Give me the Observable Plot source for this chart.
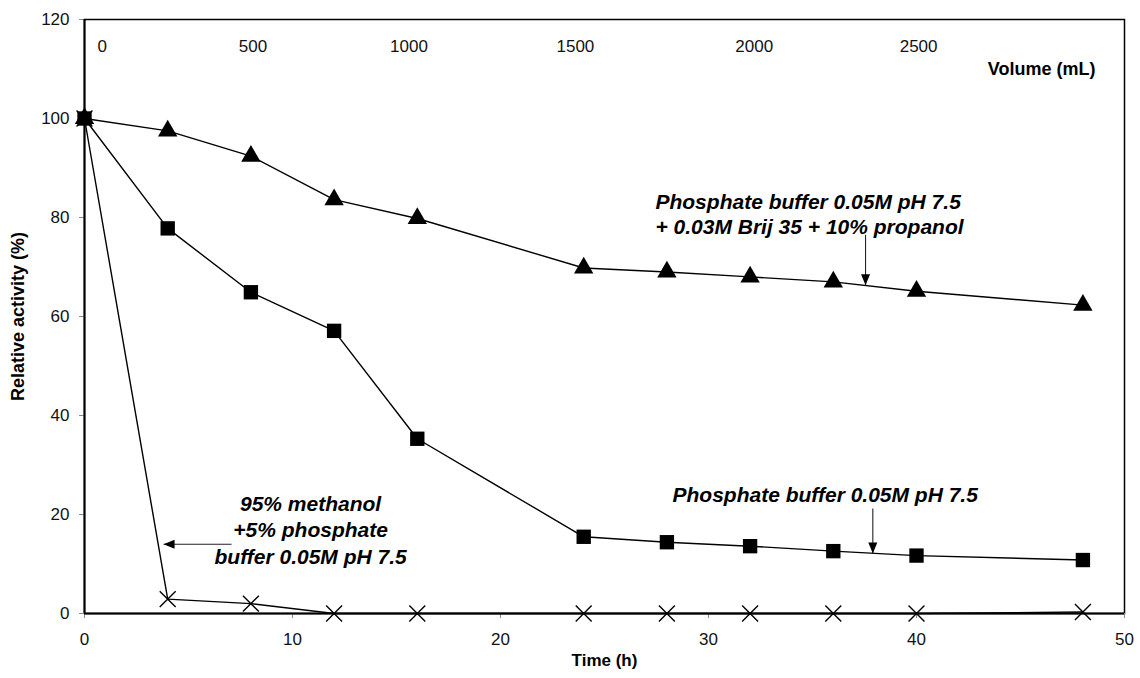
<!DOCTYPE html>
<html>
<head>
<meta charset="utf-8">
<script src="https://cdn.jsdelivr.net/npm/d3@7"></script>
<script src="https://cdn.jsdelivr.net/npm/@observablehq/plot@0.6"></script>
<style>
  html, body { margin: 0; padding: 0; background: #fff; }
  #chart svg { display: block; }
</style>
</head>
<body>
<div id="chart"></div>
<script>
// ---- data ----
const hours = [0, 4, 8, 12, 16, 24, 28, 32, 36, 40, 48];
const brijActivity = [100, 97.5, 92.4, 83.6, 79.8, 69.8, 69.0, 68.0, 67.0, 65.1, 62.3];
const bufferActivity = [100, 77.8, 64.9, 57.1, 35.3, 15.5, 14.4, 13.6, 12.6, 11.7, 10.8];
const methanolActivity = [100, 2.9, 2.0, 0, 0, 0, 0, 0, 0, 0, 0.3];

const xTicks = [0, 10, 20, 30, 40, 50];
const yTicks = [0, 20, 40, 60, 80, 100, 120];

// secondary (volume) labels, and the time (h) under which each is printed
const volumeLabels = ["0", "500", "1000", "1500", "2000", "2500"];
const volumeAtHour = [0.85, 8.1, 15.6, 23.6, 32.2, 40.1];

// annotations
const brijNote = "Phosphate buffer 0.05M pH 7.5\n+ 0.03M Brij 35 + 10% propanol";
const bufferNote = "Phosphate buffer 0.05M pH 7.5";
const methanolNote = "95% methanol\n+5% phosphate\nbuffer 0.05M pH 7.5";
const noteX = [27.45, 28.27, 10.87];
const noteY = [80.8, 23.8, 17.1];
// arrows: [x1, y1, x2 (tip), y2 (tip)]
const arrowX1 = [37.55, 37.9, 7.07];
const arrowY1 = [76.5, 21.2, 14];
const arrowX2 = [37.55, 37.9, 3.8];
const arrowY2 = [66.3, 12.1, 14];

// ---- tables built from the arrays ----
const series = [
  {name: "brij", values: brijActivity},
  {name: "buffer", values: bufferActivity},
  {name: "methanol", values: methanolActivity}
];
const rows = series.flatMap(s => hours.map((h, i) => ({series: s.name, h, v: s.values[i]})));
const arrows = arrowX1.map((_, i) => ({x1: arrowX1[i], y1: arrowY1[i], x2: arrowX2[i], y2: arrowY2[i], dir: i < 2 ? "down" : "left"}));
const volumes = volumeLabels.map((t, i) => ({t, h: volumeAtHour[i]}));

const downHead = {draw(ctx) { ctx.moveTo(0, 0); ctx.lineTo(-4.5, -11); ctx.lineTo(4.5, -11); ctx.closePath(); }};
const leftHead = {draw(ctx) { ctx.moveTo(0, 0); ctx.lineTo(11, -4.5); ctx.lineTo(11, 4.5); ctx.closePath(); }};

const noteFont = {fontFamily: "Liberation Sans, Arial, sans-serif", fontWeight: "bold", fontStyle: "italic", fontSize: 21, fill: "#000"};

const chart = Plot.plot({
  width: 1140,
  height: 678,
  marginLeft: 84,
  marginRight: 16,
  marginTop: 19,
  marginBottom: 65,
  style: {fontFamily: "Liberation Sans, Arial, sans-serif", fontSize: "17px", background: "#fff", color: "#111"},
  x: {domain: [0, 50], label: null},
  y: {domain: [0, 120], label: null},
  marks: [
    Plot.frame({stroke: "#000", strokeWidth: 1.5}),
    Plot.axisY({ticks: yTicks, tickSize: 5, tickPadding: 10, stroke: "#888", fontSize: 17, label: null}),
    Plot.axisX({ticks: xTicks, tickSize: 5, tickPadding: 14, stroke: "#888", fontSize: 17, label: null}),
    Plot.ruleX([0], {stroke: "#000", strokeWidth: 2}),
    Plot.ruleY([0], {stroke: "#000", strokeWidth: 2}),
    // axis titles
    Plot.text(["Time (h)"], {frameAnchor: "bottom", dy: 52, fontWeight: "bold", fontSize: 17, fill: "#000"}),
    Plot.text(["Relative activity (%)"], {frameAnchor: "left", textAnchor: "middle", dx: -66, rotate: -90, fontWeight: "bold", fontSize: 18, fill: "#000"}),
    // secondary volume labels
    Plot.text(volumes, {x: "h", text: "t", frameAnchor: "top", dy: 20, fontSize: 17, fill: "#111"}),
    Plot.text(["Volume (mL)"], {frameAnchor: "top-right", dx: -29, dy: 43, textAnchor: "end", fontWeight: "bold", fontSize: 18, fill: "#000"}),
    // series lines
    Plot.line(rows, {x: "h", y: "v", z: "series", stroke: "#000", strokeWidth: 1.4}),
    // markers
    Plot.dot(rows.filter(d => d.series === "methanol"), {x: "h", y: "v", symbol: "times", r: 7.3, stroke: "#000", strokeWidth: 1.4}),
    Plot.dot(rows.filter(d => d.series === "buffer"), {x: "h", y: "v", symbol: "square", r: 8.1, fill: "#000", stroke: "none"}),
    Plot.dot(rows.filter(d => d.series === "brij"), {x: "h", y: "v", symbol: "triangle", r: 7.2, fill: "#000", stroke: "none"}),
    // annotation arrows
    Plot.link(arrows, {x1: "x1", y1: "y1", x2: "x2", y2: "y2", stroke: "#222", strokeWidth: 1.1}),
    Plot.dot(arrows.filter(d => d.dir === "down"), {x: "x2", y: "y2", symbol: downHead, fill: "#000", stroke: "none"}),
    Plot.dot(arrows.filter(d => d.dir === "left"), {x: "x2", y: "y2", symbol: leftHead, fill: "#000", stroke: "none"}),
    // annotation texts
    Plot.text([brijNote], {x: noteX[0], y: noteY[0], textAnchor: "start", lineHeight: 1.2, ...noteFont}),
    Plot.text([bufferNote], {x: noteX[1], y: noteY[1], textAnchor: "start", ...noteFont}),
    Plot.text([methanolNote], {x: noteX[2], y: noteY[2], textAnchor: "middle", lineHeight: 1.26, ...noteFont})
  ]
});
document.getElementById("chart").appendChild(chart);
</script>
</body>
</html>
